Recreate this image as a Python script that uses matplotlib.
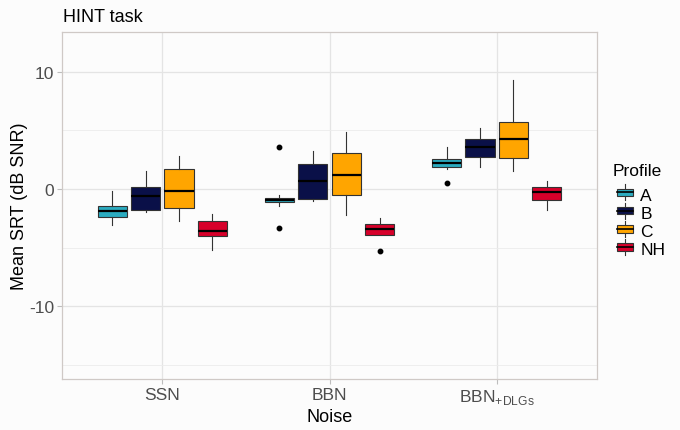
import matplotlib

matplotlib.use("Agg")
import matplotlib.pyplot as plt
from matplotlib.legend_handler import HandlerPatch
from matplotlib.lines import Line2D
from matplotlib.patches import Patch, Rectangle

plt.rcParams["font.family"] = ["Liberation Sans", "DejaVu Sans"]
plt.rcParams["mathtext.fontset"] = "custom"
plt.rcParams["mathtext.rm"] = "Liberation Sans"
plt.rcParams["axes.unicode_minus"] = False

# --- data --------------------------------------------------------------
noises = ["SSN", "BBN", "BBN+DLGs"]
noise_labels = ["SSN", "BBN", r"$\mathrm{BBN}_{\mathrm{+DLGs}}$"]
profiles = ["A", "B", "C", "NH"]
colors = ["#2BABC0", "#0A1048", "#FFA500", "#D7002A"]

# rows = noise, columns = profile
whislo = [[-3.08, -1.97, -2.76, -5.16],
          [-1.42, -1.03, -2.22, -3.88],
          [1.68, 1.91, 1.57, -1.77]]
q1 = [[-2.42, -1.82, -1.62, -4.02],
      [-1.08, -0.88, -0.54, -3.88],
      [1.91, 2.76, 2.62, -0.91]]
med = [[-1.91, -0.63, -0.20, -3.59],
       [-0.91, 0.71, 1.23, -3.42],
       [2.22, 3.56, 4.27, -0.23]]
q3 = [[-1.48, 0.20, 1.71, -2.74],
      [-0.74, 2.11, 3.10, -2.94],
      [2.59, 4.25, 5.70, 0.20]]
whishi = [[-0.14, 1.51, 2.85, -2.14],
          [-0.51, 3.25, 4.84, -2.45],
          [3.59, 5.24, 9.34, 0.66]]
fliers = [[[], [], [], []],
          [[3.59, -3.33], [], [], [-5.27]],
          [[0.51], [], [], []]]

# --- figure ------------------------------------------------------------
fig = plt.figure(figsize=(6.8, 4.31), dpi=100, facecolor="#FCFCFC")
ax = fig.add_axes([62 / 680, 1 - 380 / 431, 535 / 680, 347 / 431])
ax.set_facecolor("#FCFCFC")

dodge = 0.2
box_w = 0.175
edge = "#333333"
for i in range(len(noises)):
    for j in range(len(profiles)):
        st = dict(med=med[i][j], q1=q1[i][j], q3=q3[i][j],
                  whislo=whislo[i][j], whishi=whishi[i][j], fliers=fliers[i][j])
        pos = i + 1 + (j - 1.5) * dodge
        ax.bxp([st], positions=[pos], widths=box_w, patch_artist=True,
               showcaps=False, manage_ticks=False,
               boxprops=dict(facecolor=colors[j], edgecolor=edge, linewidth=0.8),
               whiskerprops=dict(color=edge, linewidth=0.8),
               medianprops=dict(color="black", linewidth=1.6, solid_capstyle="butt"),
               flierprops=dict(marker="o", markersize=3.2, markerfacecolor="black",
                               markeredgecolor="black"))

ax.set_xlim(0.4, 3.6)
ax.set_ylim(-16.2, 13.4)
ax.set_xticks([1, 2, 3])
ax.set_xticklabels(noise_labels)
ax.set_yticks([-10, 0, 10])
ax.set_yticks([-15, -5, 5], minor=True)

ax.grid(True, which="major", color="#E4E4E4", linewidth=0.9)
ax.grid(True, which="minor", axis="y", color="#ECECEC", linewidth=0.6)
ax.set_axisbelow(True)
for s in ax.spines.values():
    s.set_color("#CFC9C6")
    s.set_linewidth(0.9)
ax.tick_params(axis="both", which="major", colors="#BDBDBD", length=3.5,
               labelcolor="#4D4D4D", labelsize=12.5, pad=2)
ax.tick_params(axis="both", which="minor", length=0)

ax.set_xlabel("Noise", fontsize=13, color="black", labelpad=2)
ax.set_ylabel("Mean SRT (dB SNR)", fontsize=13, color="black", labelpad=1)
fig.text(63 / 680, 1 - 18 / 431, "HINT task", fontsize=13, ha="left", va="center")


# legend keys drawn as small boxplots, like the reference
class BoxKey(HandlerPatch):
    def create_artists(self, legend, orig, xd, yd, w, h, fontsize, trans):
        fc = orig.get_facecolor()
        bh = h * 0.55
        rect = Rectangle((xd, yd + (h - bh) / 2), w, bh, facecolor=fc,
                         edgecolor=edge, linewidth=0.8, transform=trans)
        wl = Line2D([xd + w / 2] * 2, [yd - h * 0.1, yd + h * 1.1], color=edge,
                    linewidth=0.8, transform=trans)
        ml = Line2D([xd, xd + w], [yd + h / 2] * 2, color="black", linewidth=1.2,
                    transform=trans)
        return [wl, rect, ml]


handles = [Patch(facecolor=c, label=p) for c, p in zip(colors, profiles)]
fig.text(613 / 680, 1 - 172 / 431, "Profile", fontsize=12.5, ha="left", va="center")
leg = fig.legend(handles=handles, loc="upper left",
                 bbox_to_anchor=(603 / 680, 1 - 174 / 431), frameon=False,
                 fontsize=12.5, handlelength=0.9,
                 handleheight=0.8, handletextpad=0.45, labelspacing=0.15,
                 borderpad=0.3, handler_map={Patch: BoxKey()})

fig.savefig("out.png", dpi=100, facecolor=fig.get_facecolor())
